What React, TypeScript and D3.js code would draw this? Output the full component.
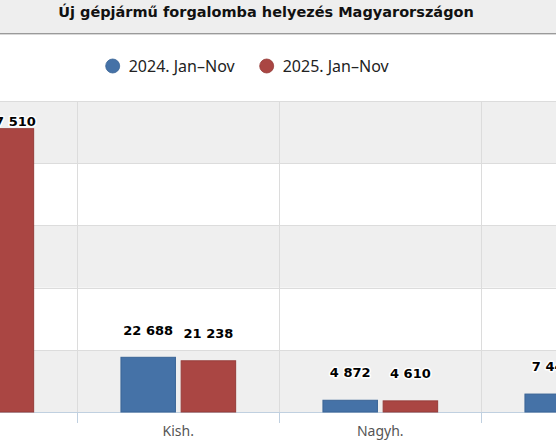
import React from 'react';
import * as d3 from 'd3';

const categories = ['Szem.', 'Kish.', 'Nagyh.', 'Motor'];
const seriesNames = ['2024. Jan–Nov', '2025. Jan–Nov'];
const values2024 = [112480, 22688, 4872, 7440];
const values2025 = [117510, 21238, 4610, 7930];
const seriesColors = ['#4572A7', '#AA4643'];
const seriesStroke = ['#3a6496', '#963c39'];
const yMax = 129000;
const yTickCount = 5;

const W = 556;
const H = 444;
// plot runs past both edges of the window (the chart is cropped)
const plot = { left: -124.7, right: 683.3, top: 101, bottom: 412 };

const fmt = d3.formatLocale({ decimal: ',', thousands: ' ', grouping: [3], currency: ['', ''] }).format(',d');

const App: React.FC = () => {
    const x0 = d3.scaleBand<string>().domain(categories).range([plot.left, plot.right]).padding(0);
    const step = x0.step();
    const groupWidth = 114.7;
    const groupOffset = (step - groupWidth) / 2;
    const x1 = d3.scaleBand<number>().domain([0, 1]).range([0, groupWidth]).paddingInner(0.095).paddingOuter(0);
    const y = d3.scaleLinear().domain([0, yMax]).range([plot.bottom, plot.top]);
    const ticks = d3.range(yTickCount + 1).map(i => (yMax / yTickCount) * i);

    const series = [values2024, values2025];

    const bands = ticks.slice(0, -1).map((t, i) => ({ y0: y(ticks[i + 1]), y1: y(t), grey: i % 2 === 0 }));

    return (
        <div style={{ position: 'absolute', left: 0, top: 0 }}>
            <svg width={W} height={H} style={{ display: 'block', background: '#fff' }}>
                {/* title band */}
                <rect x={0} y={0} width={W} height={33} fill="#eeeeee" />
                <line x1={0} x2={W} y1={33.5} y2={33.5} stroke="#9a9a9a" />
                <line x1={0} x2={W} y1={34.5} y2={34.5} stroke="#d8d8d8" />
                <text
                    x={266}
                    y={17}
                    textAnchor="middle"
                    fontFamily="'DejaVu Sans', Verdana, sans-serif"
                    fontWeight="bold"
                    fontSize={14.5}
                    fill="#111"
                >
                    Új gépjármű forgalomba helyezés Magyarországon
                </text>

                {/* legend */}
                {seriesNames.map((name, i) => {
                    const lx = i === 0 ? 112.7 : 266.7;
                    return (
                        <g key={name}>
                            <circle cx={lx} cy={66} r={7} fill={seriesColors[i]} stroke={seriesStroke[i]} strokeWidth={0.8} />
                            <text x={lx + 16} y={71.5} fontFamily="'Noto Sans', sans-serif" fontSize={16} fill="#222">
                                {name}
                            </text>
                        </g>
                    );
                })}

                {/* alternate bands */}
                {bands.map((b, i) => (
                    <rect key={i} x={plot.left} y={b.y0} width={plot.right - plot.left} height={b.y1 - b.y0}
                        fill={b.grey ? '#efefef' : '#ffffff'} />
                ))}
                {/* horizontal grid */}
                {ticks.slice(1).map(t => (
                    <line key={t} x1={plot.left} x2={plot.right} y1={Math.round(y(t)) + 0.5} y2={Math.round(y(t)) + 0.5}
                        stroke="#dcdcdc" />
                ))}
                {/* vertical grid at category boundaries */}
                {categories.map(c => {
                    const bx = Math.round((x0(c) as number) + step) + 0.5;
                    return (
                        <g key={c}>
                            <line x1={bx} x2={bx} y1={plot.top} y2={plot.bottom} stroke="#dcdcdc" />
                            <line x1={bx} x2={bx} y1={plot.bottom} y2={plot.bottom + 11} stroke="#C0D0E0" />
                        </g>
                    );
                })}
                {/* x axis line */}
                <line x1={plot.left} x2={plot.right} y1={plot.bottom + 0.5} y2={plot.bottom + 0.5} stroke="#C0D0E0" />

                {/* bars */}
                {series.map((vals, s) =>
                    vals.map((v, i) => {
                        const bx = (x0(categories[i]) as number) + groupOffset + (x1(s) as number);
                        return (
                            <rect key={`${s}-${i}`} x={bx} y={y(v)} width={x1.bandwidth()} height={plot.bottom - y(v)}
                                fill={seriesColors[s]} stroke={seriesStroke[s]} strokeWidth={1} />
                        );
                    })
                )}

                {/* data labels */}
                {series.map((vals, s) =>
                    vals.map((v, i) => {
                        const cx = (x0(categories[i]) as number) + groupOffset + (x1(s) as number) + x1.bandwidth() / 2;
                        const cy = Math.max(y(v) - 27.5, plot.top + 20);
                        return (
                            <text key={`l-${s}-${i}`} x={cx} y={cy + 4.7} textAnchor="middle"
                                fontFamily="'DejaVu Sans', Verdana, sans-serif" fontWeight="bold" fontSize={13}
                                fill="#000" stroke="#fff" strokeWidth={3} strokeLinejoin="round"
                                style={{ paintOrder: 'stroke' }}>
                                {fmt(v)}
                            </text>
                        );
                    })
                )}

                {/* category labels */}
                {categories.map(c => (
                    <text key={c} x={(x0(c) as number) + step / 2} y={436} textAnchor="middle"
                        fontFamily="'Noto Sans', sans-serif" fontSize={14} fill="#555">
                        {c}
                    </text>
                ))}
            </svg>
        </div>
    );
};

export default App;
